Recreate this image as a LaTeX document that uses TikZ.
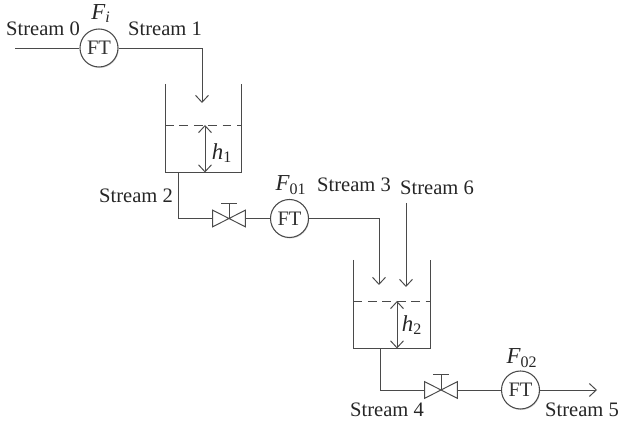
\documentclass[tikz,border=0pt]{standalone}
\usepackage{fontspec}
\setmainfont{Liberation Serif}
\usetikzlibrary{arrows.meta,shadows}

\definecolor{linegray}{HTML}{4A4A4A}
\tikzset{
  ftnode/.style={circle, draw=linegray, fill=white, minimum size=0.76cm, inner sep=0pt,
    line width=0.6pt, text=black!80, drop shadow={shadow xshift=0.4pt, shadow yshift=-0.6pt, opacity=0.3}},
  valvebox/.style={minimum width=0.64cm, minimum height=0.32cm, inner sep=0pt},
  lbl/.style={inner sep=0pt, text=black!85},
  symb/.style={lbl, font=\fontsize{13}{15}\selectfont\itshape},
  pipe/.style={draw=linegray, line width=0.55pt}
}

\begin{document}
\begin{tikzpicture}[>={Straight Barb[length=1.4mm, width=2.6mm]}, font=\fontsize{11.7}{14}\selectfont]
  \useasboundingbox (0,0) rectangle (12.38,8.52);

  \coordinate (S0) at (0.30, 7.56);
  \coordinate (In1) at (4.04, 6.46);
  \coordinate (In3) at (7.58, 2.82);
  \coordinate (S6top) at (8.12, 4.46);
  \coordinate (In6) at (8.12, 2.78);
  \coordinate (Out1) at (3.57, 5.07);
  \coordinate (Out2) at (7.61, 1.55);
  \coordinate (End) at (11.94, 0.72);

  \node[ftnode] (FT0) at (1.98, 7.56) {FT};
  \node[ftnode] (FT1) at (5.79, 4.15) {FT};
  \node[ftnode] (FT2) at (10.41, 0.72) {FT};
  \node[valvebox] (V1) at (4.58, 4.15) {};
  \node[valvebox] (V2) at (8.82, 0.72) {};

  % tanks
  \draw[pipe] (3.30,6.84) -- (3.30,5.07) -- (4.82,5.07) -- (4.82,6.84);
  \draw[pipe] (7.07,3.32) -- (7.07,1.55) -- (8.61,1.55) -- (8.61,3.32);
  \draw[pipe, dashed, dash pattern=on 5pt off 3.2pt] (3.30,6.02) -- (4.82,6.02);
  \draw[pipe, dashed, dash pattern=on 5pt off 3.2pt] (7.07,2.50) -- (8.61,2.50);
  \draw[pipe, <->] (4.10,6.02) -- (4.10,5.07);
  \draw[pipe, <->] (7.94,2.50) -- (7.94,1.55);

  % valves
  \foreach \v in {V1,V2} {
    \draw[pipe] (\v.north west) -- (\v.south east) -- (\v.north east) -- (\v.south west) -- cycle;
    \draw[pipe] (\v.center) -- ++(0,0.31) ++(-0.16,0) -- ++(0.32,0);
  }

  % pipes
  \draw[pipe] (S0) -- (FT0);
  \draw[pipe, ->] (FT0) -| (In1);
  \draw[pipe] (Out1) |- (V1);
  \draw[pipe] (V1) -- (FT1);
  \draw[pipe, ->] (FT1) -| (In3);
  \draw[pipe, ->] (S6top) -- (In6);
  \draw[pipe] (Out2) |- (V2);
  \draw[pipe] (V2) -- (FT2);
  \draw[pipe, ->] (FT2) -- (End);

  \node[lbl] (L0) at (0.86, 7.94) {Stream 0};
  \node[lbl] (L1) at (3.30, 7.94) {Stream 1};
  \node[lbl] (L2) at (2.72, 4.60) {Stream 2};
  \node[lbl] (L3) at (7.08, 4.82) {Stream 3};
  \node[lbl] (L6) at (8.74, 4.76) {Stream 6};
  \node[lbl] (L4) at (7.74, 0.32) {Stream 4};
  \node[lbl] (L5) at (11.64, 0.32) {Stream 5};

  \node[symb] (Fi) at (2.02, 8.25) {F\textsubscript{i}};
  \node[symb] (F01) at (5.82, 4.82) {F\textsubscript{\upshape 01}};
  \node[symb] (F02) at (10.44, 1.36) {F\textsubscript{\upshape 02}};
  \node[symb] (h1) at (4.44, 5.46) {h\textsubscript{\upshape 1}};
  \node[symb] (h2) at (8.24, 2.02) {h\textsubscript{\upshape 2}};
\end{tikzpicture}
\end{document}
